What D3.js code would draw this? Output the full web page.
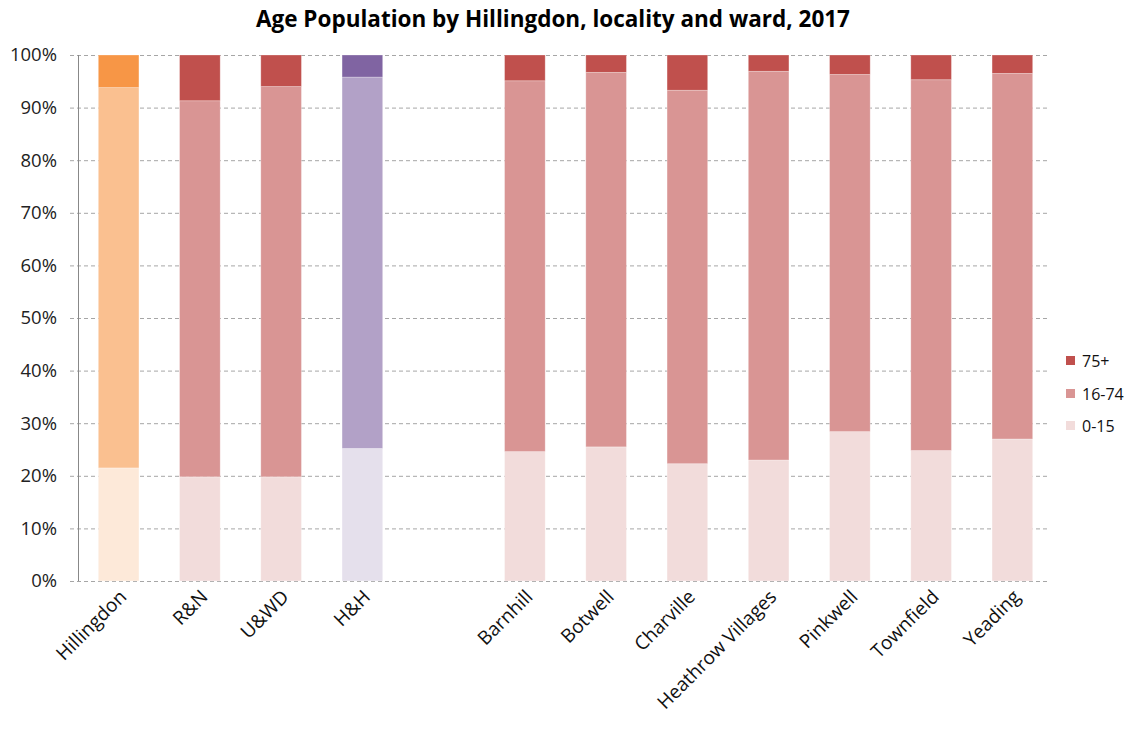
<!DOCTYPE html>
<meta charset="utf-8">
<head>
  <script src="https://d3js.org/d3.v7.min.js"></script>
  <style>
    body { margin: 0; background: #fff; font-family: 'Open Sans', 'Noto Sans', sans-serif; }
  </style>
</head>
<body>
  <div id="my_dataviz"></div>
<script>
  // categories ("" is the empty slot between localities and wards)
  const areas = ["Hillingdon", "R&N", "U&WD", "H&H", "", "Barnhill", "Botwell", "Charville", "Heathrow Villages", "Pinkwell", "Townfield", "Yeading"]
  const age_0_15 = [21.5, 19.8, 19.8, 25.2, null, 24.6, 25.5, 22.3, 23.0, 28.4, 24.8, 27.0]
  const age_16_74 = [72.3, 71.5, 74.2, 70.6, null, 70.5, 71.2, 71.0, 73.9, 67.9, 70.5, 69.5]
  const age_75 = [6.2, 8.7, 6.0, 4.2, null, 4.9, 3.3, 6.7, 3.1, 3.7, 4.7, 3.5]
  const series_names = ["0-15", "16-74", "75+"]
  const y_ticks = [0, 10, 20, 30, 40, 50, 60, 70, 80, 90, 100]

  const W = 1130, H = 729
  const margin = { top: 55, right: 77, bottom: 148, left: 78 }
  const width = W - margin.left - margin.right,
    height = H - margin.top - margin.bottom

  // colour sets: borough (orange), ward-ish (red), H&H (purple)
  const palettes = {
    orange: ["#FDE9D9", "#FAC090", "#F79646"],
    red: ["#F2DCDB", "#D99594", "#C0504D"],
    purple: ["#E5E0EC", "#B2A1C7", "#8064A2"]
  }
  const paletteFor = name => name === "Hillingdon" ? palettes.orange : (name === "H&H" ? palettes.purple : palettes.red)

  const svg = d3.select("#my_dataviz").append("svg")
    .attr("width", W).attr("height", H)

  svg.append("text")
    .attr("x", 553).attr("y", 27)
    .attr("text-anchor", "middle")
    .attr("font-size", 22.5).attr("font-weight", "bold")
    .attr("fill", "#000")
    .text("Age Population by Hillingdon, locality and ward, 2017")

  const g = svg.append("g").attr("transform", `translate(${margin.left},${margin.top})`)

  var x = d3.scaleBand().domain(d3.range(areas.length)).range([0, width]).paddingInner(0.5).paddingOuter(0.25)
  var y = d3.scaleLinear().domain([0, 100]).range([height, 0])

  // gridlines
  g.append("g").selectAll("line")
    .data(y_ticks)
    .enter().append("line")
    .attr("x1", -8).attr("x2", width - 3)
    .attr("y1", d => y(d) + 0.5).attr("y2", d => y(d) + 0.5)
    .attr("stroke", "#a6a6a6").attr("stroke-width", 1)
    .attr("stroke-dasharray", "4,3")

  // y axis
  const yAxis = g.append("g")
    .call(d3.axisLeft(y).tickValues(y_ticks).tickFormat(d => d + "%").tickSize(0).tickPadding(21))
  yAxis.select(".domain").remove()
  yAxis.selectAll("text").attr("font-size", 18.5).attr("fill", "#222").attr("font-family", "'Open Sans', sans-serif")
  g.append("line")
    .attr("x1", 0.5).attr("x2", 0.5).attr("y1", 0).attr("y2", height)
    .attr("stroke", "#888").attr("stroke-width", 1)

  // stacked bars
  const rows = areas.map((a, i) => ({ area: a, i: i, vals: [age_0_15[i], age_16_74[i], age_75[i]] }))
  rows.filter(r => r.area !== "").forEach(r => {
    let acc = 0
    const pal = paletteFor(r.area)
    r.vals.forEach((v, k) => {
      g.append("rect")
        .attr("x", x(r.i))
        .attr("width", x.bandwidth())
        .attr("y", y(acc + v))
        .attr("height", y(acc) - y(acc + v))
        .attr("fill", pal[k])
        .attr("stroke", "#fff").attr("stroke-opacity", 0.35).attr("stroke-width", 0.8)
      acc += v
    })
  })

  // x labels
  g.append("g").selectAll("text")
    .data(rows.filter(r => r.area !== ""))
    .enter().append("text")
    .attr("transform", d => `translate(${x(d.i) + x.bandwidth() / 2 + 9},${height + 17}) rotate(-45)`)
    .attr("text-anchor", "end")
    .attr("font-size", 19).attr("fill", "#111")
    .text(d => d.area)

  // legend
  const legend = svg.append("g").attr("transform", "translate(1066,0)")
  const legendY = [426, 394, 361]
  series_names.forEach((s, k) => {
    legend.append("rect")
      .attr("x", 0).attr("y", legendY[k] - 5).attr("width", 9).attr("height", 9)
      .attr("fill", palettes.red[k])
    legend.append("text")
      .attr("x", 16).attr("y", legendY[k] + 6)
      .attr("font-size", 16).attr("fill", "#111")
      .text(s)
  })
</script>
</body>
